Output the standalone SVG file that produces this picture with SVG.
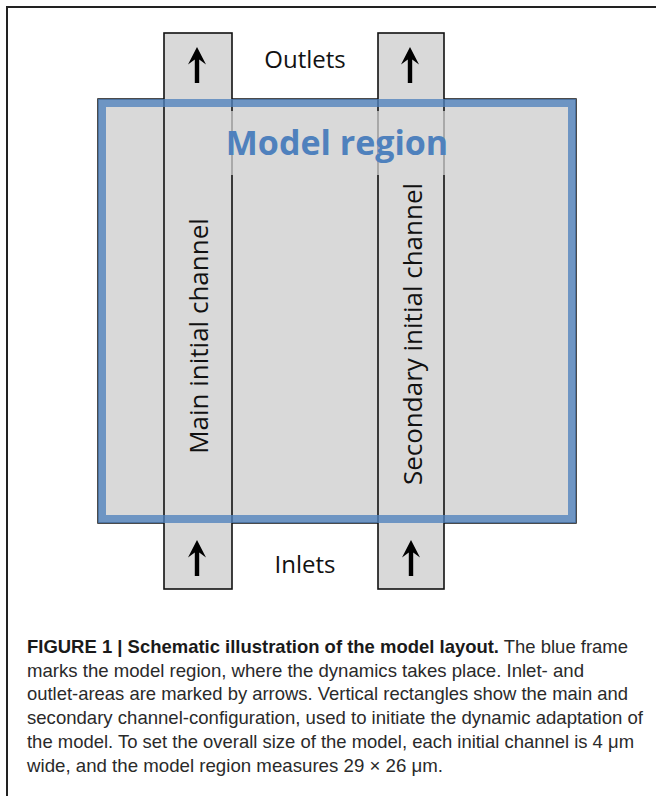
<svg xmlns="http://www.w3.org/2000/svg" width="656" height="796" viewBox="0 0 656 796">
<style>
.lbl{font-family:"Open Sans","DejaVu Sans",sans-serif;font-size:24px;fill:#111}
.vlbl{font-family:"Open Sans","DejaVu Sans",sans-serif;font-size:26px;fill:#111}
.title{font-family:"Open Sans","DejaVu Sans",sans-serif;font-size:34px;font-weight:700;fill:#4f81bd}
.chan{fill:#d9d9d9;stroke:#111;stroke-width:1.6}
.cap{font-family:"Liberation Sans",Arial,sans-serif;font-size:18.5px;fill:#2a2a2a}
.capb{font-weight:700;fill:#1a1a1a}
</style>
<defs>
<path id="arrow" d="M0,0 L9,17.5 L2.2,12.5 L2.2,36 L-2.2,36 L-2.2,12.5 L-9,17.5 Z" fill="#000"/>
</defs>
<rect width="656" height="796" fill="#fff"/>
<rect id="page-frame" x="7" y="7" width="660" height="800" fill="none" stroke="#222" stroke-width="2"/>

<g id="model-region">
<rect x="98" y="99" width="478" height="424" fill="#d9d9d9" stroke="#111" stroke-width="1.5"/>
</g>
<g id="main-channel">
<rect class="chan" x="164" y="33" width="68" height="556"/>
</g>
<g id="secondary-channel">
<rect class="chan" x="378" y="33" width="66" height="556"/>
</g>
<g id="model-frame">
<rect x="102" y="103" width="470" height="416" fill="none" stroke="#4f81bd" stroke-opacity="0.78" stroke-width="8"/>
<rect x="215" y="111" width="245" height="64" fill="#d9d9d9" fill-opacity="0.7"/>
<text class="title" x="337" y="155" text-anchor="middle">Model region</text>
</g>
<g id="connectors">
<use href="#arrow" x="197" y="47"/>
<use href="#arrow" x="410" y="47"/>
<use href="#arrow" x="197" y="540"/>
<use href="#arrow" x="411" y="540"/>
</g>
<g id="outlets">
<text class="lbl" x="305" y="68" text-anchor="middle">Outlets</text>
</g>
<g id="inlets">
<text class="lbl" x="305" y="573" text-anchor="middle">Inlets</text>
</g>
<g id="main-label">
<text class="vlbl" transform="translate(208,336) rotate(-90)" text-anchor="middle">Main initial channel</text>
</g>
<g id="secondary-label">
<text class="vlbl" transform="translate(422,334) rotate(-90)" text-anchor="middle">Secondary initial channel</text>
</g>
<g id="caption">
<text class="cap" x="27" y="653" textLength="601" lengthAdjust="spacingAndGlyphs"><tspan class="capb">FIGURE 1 | Schematic illustration of the model layout.</tspan> The blue frame</text>
<text class="cap" x="27" y="677" textLength="557" lengthAdjust="spacingAndGlyphs">marks the model region, where the dynamics takes place. Inlet- and</text>
<text class="cap" x="27" y="700" textLength="601" lengthAdjust="spacingAndGlyphs">outlet-areas are marked by arrows. Vertical rectangles show the main and</text>
<text class="cap" x="27" y="724" textLength="616" lengthAdjust="spacingAndGlyphs">secondary channel-configuration, used to initiate the dynamic adaptation of</text>
<text class="cap" x="27" y="748" textLength="607" lengthAdjust="spacingAndGlyphs">the model. To set the overall size of the model, each initial channel is 4 μm</text>
<text class="cap" x="27" y="772" textLength="416" lengthAdjust="spacingAndGlyphs">wide, and the model region measures 29 × 26 μm.</text>
</g>
</svg>
